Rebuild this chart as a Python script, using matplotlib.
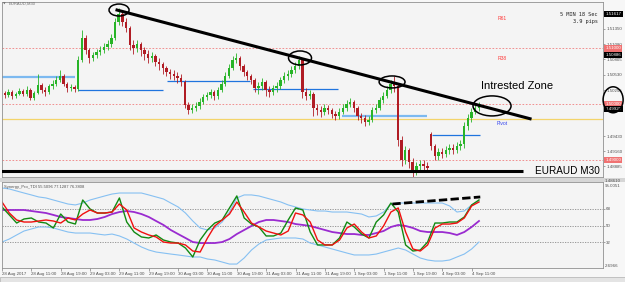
import matplotlib
matplotlib.use("Agg")
import matplotlib.pyplot as plt
import matplotlib.transforms as mtransforms
from matplotlib.patches import Ellipse, Rectangle
import numpy as np

plt.rcParams['font.family'] = ['Liberation Sans', 'DejaVu Sans']

# EURAUD, hourly candles (2 bars per candle)
first_open = 1.5018
monday_open = 1.4947   # weekend gap
monday_candle = 117

close = np.array([
    1.5020, 1.5017, 1.5022, 1.5015, 1.5018, 1.5024, 1.5018, 1.5026, 1.5011, 1.5020,
    1.5035, 1.5026, 1.5022, 1.5033, 1.5036, 1.5043, 1.5051, 1.5036, 1.5029, 1.5031,
    1.5027, 1.5079, 1.5119, 1.5097, 1.5083, 1.5088, 1.5094, 1.5097, 1.5103, 1.5108,
    1.5119, 1.5148, 1.5162, 1.5148, 1.5137, 1.5106, 1.5101, 1.5108, 1.5097, 1.5090,
    1.5083, 1.5087, 1.5076, 1.5072, 1.5065, 1.5058, 1.5054, 1.5051, 1.5047, 1.5040,
    1.4999, 1.4990, 1.4993, 1.4997, 1.5004, 1.5013, 1.5017, 1.5022, 1.5015, 1.5026,
    1.5036, 1.5051, 1.5065, 1.5079, 1.5083, 1.5069, 1.5058, 1.5051, 1.5043, 1.5029,
    1.5033, 1.5040, 1.5026, 1.5022, 1.5029, 1.5033, 1.5043, 1.5051, 1.5054, 1.5061,
    1.5069, 1.5079, 1.5022, 1.5015, 1.5018, 1.4993, 1.4990, 1.4986, 1.4993, 1.4990,
    1.4982, 1.4979, 1.4986, 1.4993, 1.5000, 1.5004, 1.4993, 1.4979, 1.4975, 1.4968,
    1.4972, 1.4990, 1.4993, 1.5008, 1.5015, 1.5026, 1.5036, 1.5033, 1.4936, 1.4900,
    1.4918, 1.4896, 1.4878, 1.4889, 1.4893, 1.4889, 1.4886, 1.4925, 1.4907, 1.4914,
    1.4911, 1.4918, 1.4921, 1.4918, 1.4925, 1.4929, 1.4961, 1.4975, 1.4986, 1.4993,
    1.4997])

high = np.array([
    1.5026, 1.5024, 1.5027, 1.5026, 1.5022, 1.5029, 1.5027, 1.5033, 1.5029, 1.5024,
    1.5054, 1.5038, 1.5031, 1.5036, 1.5043, 1.5051, 1.5061, 1.5054, 1.5040, 1.5036,
    1.5035, 1.5087, 1.5133, 1.5124, 1.5101, 1.5094, 1.5099, 1.5104, 1.5110, 1.5115,
    1.5126, 1.5155, 1.5173, 1.5165, 1.5155, 1.5140, 1.5115, 1.5115, 1.5112, 1.5103,
    1.5097, 1.5094, 1.5090, 1.5083, 1.5076, 1.5069, 1.5063, 1.5061, 1.5058, 1.5054,
    1.5043, 1.5004, 1.5000, 1.5004, 1.5011, 1.5018, 1.5022, 1.5027, 1.5026, 1.5031,
    1.5043, 1.5058, 1.5072, 1.5087, 1.5092, 1.5087, 1.5072, 1.5061, 1.5054, 1.5047,
    1.5040, 1.5047, 1.5043, 1.5033, 1.5035, 1.5040, 1.5049, 1.5058, 1.5061, 1.5069,
    1.5076, 1.5087, 1.5083, 1.5029, 1.5026, 1.5022, 1.5000, 1.4997, 1.5000, 1.4999,
    1.4993, 1.4988, 1.4993, 1.5000, 1.5008, 1.5011, 1.5008, 1.4997, 1.4984, 1.4981,
    1.4979, 1.4995, 1.5000, 1.5013, 1.5022, 1.5033, 1.5043, 1.5051, 1.5036, 1.4943,
    1.4925, 1.4921, 1.4904, 1.4896, 1.4900, 1.4900, 1.4896, 1.4950, 1.4929, 1.4921,
    1.4921, 1.4925, 1.4929, 1.4929, 1.4932, 1.4936, 1.4968, 1.4982, 1.4993, 1.5000,
    1.5004])

low = np.array([
    1.5013, 1.5011, 1.5013, 1.5009, 1.5011, 1.5017, 1.5015, 1.5015, 1.5008, 1.5008,
    1.5018, 1.5020, 1.5015, 1.5018, 1.5027, 1.5033, 1.5040, 1.5033, 1.5022, 1.5024,
    1.5022, 1.5024, 1.5076, 1.5090, 1.5074, 1.5078, 1.5083, 1.5088, 1.5092, 1.5097,
    1.5103, 1.5115, 1.5142, 1.5140, 1.5130, 1.5097, 1.5090, 1.5094, 1.5087, 1.5079,
    1.5074, 1.5076, 1.5069, 1.5061, 1.5054, 1.5051, 1.5045, 1.5043, 1.5038, 1.5033,
    1.4993, 1.4982, 1.4984, 1.4988, 1.4991, 1.5000, 1.5008, 1.5011, 1.5008, 1.5009,
    1.5022, 1.5033, 1.5047, 1.5061, 1.5074, 1.5061, 1.5051, 1.5043, 1.5036, 1.5022,
    1.5018, 1.5026, 1.5015, 1.5013, 1.5017, 1.5022, 1.5027, 1.5038, 1.5043, 1.5049,
    1.5056, 1.5063, 1.5011, 1.5008, 1.5009, 1.4979, 1.4981, 1.4977, 1.4981, 1.4982,
    1.4975, 1.4972, 1.4974, 1.4982, 1.4988, 1.4995, 1.4986, 1.4972, 1.4966, 1.4961,
    1.4963, 1.4968, 1.4984, 1.4990, 1.5002, 1.5011, 1.5020, 1.5022, 1.4925, 1.4889,
    1.4893, 1.4886, 1.4869, 1.4873, 1.4882, 1.4882, 1.4878, 1.4918, 1.4900, 1.4900,
    1.4904, 1.4905, 1.4911, 1.4911, 1.4913, 1.4918, 1.4921, 1.4954, 1.4968, 1.4982,
    1.4988])

# Synergy_Pro_TDI, one value every 2 hours
tdi_upper = [90.9, 89.8, 87.6, 85.4, 83.3, 81.1, 80.0, 77.8, 75.6, 73.4,
             72.4, 74.5, 77.8, 80.0, 82.2, 84.3, 85.4, 85.4, 85.4, 85.4,
             83.3, 81.1, 78.9, 74.5, 70.2, 63.6, 54.9, 47.3, 45.1, 47.3,
             53.8, 64.7, 80.0, 83.3, 83.3, 82.2, 80.0, 77.8, 75.6, 72.4,
             70.2, 68.0, 66.9, 65.8, 65.8, 64.7, 64.7, 64.7, 63.6, 62.5,
             59.3, 60.4, 64.7, 73.4, 74.5, 74.5, 74.5, 74.5, 74.5, 74.5,
             74.5, 71.3, 64.7, 65.8, 72.4, 76.7]
tdi_lower = [32.0, 35.3, 39.7, 44.0, 46.2, 48.4, 48.4, 47.3, 45.1, 42.9,
             41.8, 41.8, 41.8, 40.7, 39.7, 40.7, 38.6, 35.3, 30.9, 26.6,
             23.3, 21.1, 20.0, 18.9, 17.9, 16.8, 15.7, 15.7, 13.5, 12.4,
             10.2, 8.0, 8.0, 14.6, 23.3, 29.8, 34.2, 35.3, 36.4, 36.4,
             36.4, 35.3, 30.9, 28.8, 26.6, 24.4, 22.2, 20.0, 17.9, 17.9,
             17.9, 18.9, 21.1, 23.3, 25.5, 23.3, 18.9, 14.6, 12.4, 11.3,
             11.3, 12.4, 15.7, 18.9, 24.4, 32.0]
tdi_base = [66.9, 66.9, 66.9, 66.9, 65.8, 64.7, 63.6, 61.5, 59.3, 58.2,
            57.1, 56.0, 56.0, 57.1, 59.3, 62.5, 64.7, 65.8, 64.7, 62.5,
            59.3, 54.9, 50.6, 45.1, 40.7, 36.4, 32.0, 30.9, 30.9, 30.9,
            32.0, 35.3, 40.7, 45.1, 49.5, 53.8, 56.0, 56.0, 54.9, 53.8,
            51.6, 50.6, 49.5, 47.3, 45.1, 42.9, 41.8, 40.7, 40.7, 39.7,
            39.7, 41.8, 44.0, 48.4, 50.6, 49.5, 47.3, 44.0, 42.9, 42.9,
            42.9, 41.8, 39.7, 42.9, 48.4, 54.9]
tdi_green = [70.2, 61.5, 52.7, 57.1, 58.2, 53.8, 52.7, 47.3, 62.5, 53.8,
             51.6, 77.8, 68.0, 63.6, 63.6, 64.7, 80.0, 53.8, 42.9, 37.5,
             36.4, 39.7, 34.2, 32.0, 30.9, 25.5, 15.7, 34.2, 45.1, 52.7,
             56.0, 69.1, 82.2, 58.2, 51.6, 48.4, 38.6, 38.6, 41.8, 56.0,
             69.1, 66.9, 42.9, 28.8, 28.8, 28.8, 36.4, 53.8, 48.4, 40.7,
             36.4, 53.8, 61.5, 74.5, 64.7, 28.8, 22.2, 23.3, 32.0, 52.7,
             52.7, 53.8, 53.8, 59.3, 72.4, 77.8]
tdi_red = [75.6, 63.6, 56.0, 53.8, 53.8, 54.9, 56.0, 54.9, 52.7, 58.2,
           56.0, 62.5, 66.9, 63.6, 63.6, 64.7, 73.4, 66.9, 47.3, 42.9,
           39.7, 37.5, 32.0, 30.9, 30.9, 28.8, 22.2, 21.1, 36.4, 49.5,
           56.0, 62.5, 75.6, 64.7, 52.7, 48.4, 44.0, 41.8, 39.7, 44.0,
           63.6, 61.5, 53.8, 34.2, 28.8, 28.8, 34.2, 47.3, 51.6, 42.9,
           36.4, 38.6, 49.5, 64.7, 69.1, 42.9, 24.4, 22.2, 28.8, 47.3,
           51.6, 51.6, 52.7, 58.2, 71.3, 75.6]

date_labels = ['28 Aug 2017', '28 Aug 11:00', '28 Aug 19:00', '29 Aug 03:00',
               '29 Aug 11:00', '29 Aug 19:00', '30 Aug 03:00', '30 Aug 11:00',
               '30 Aug 19:00', '31 Aug 03:00', '31 Aug 11:00', '31 Aug 19:00',
               '1 Sep 03:00', '1 Sep 11:00', '1 Sep 19:00', '4 Sep 03:00',
               '4 Sep 11:00']
price_ticks = [1.51350, 1.51080, 1.50805, 1.50530, 1.50255, 1.49430, 1.49160, 1.48885]
tdi_ticks = [68, 50, 32]

box_prices = [1.51617, 1.51000, 1.50886, 1.50000, 1.49920, 1.49000]
box_colors = ['black', '#f07272', 'black', '#f07272', 'black', '#f07272']

round_levels = [1.5100, 1.5000, 1.4900]
pivot = 1.4974
support = 1.4881
support_end = 284
trend_bars = [63.1, 287.9]
trend_prices = [1.5169, 1.4974]

level_prices = [1.5049, 1.5026, 1.5042, 1.5027, 1.4979, 1.4945]
level_from = [0.5, 41.9, 90.3, 137.1, 185.6, 234.6]
level_to = [40.3, 88.2, 135.5, 183.4, 231.8, 260.7]
level_light = [True, False, False, False, True, False]

zone_bar = [64.2, 162.7, 212.8, 267.2]
zone_price = [1.5169, 1.5083, 1.5040, 1.4997]
zone_w = [10.9, 12.5, 14.1, 20.7]
zone_h = [0.00215, 0.00251, 0.00215, 0.00359]

div_bars = [212.8, 260.7]
div_vals = [73.4, 81.1]

W, H = 625, 282


def rect(x0, y0, x1, y1):
    return [x0 / W, 1 - y1 / H, (x1 - x0) / W, (y1 - y0) / H]


def ftext(px, py, s, **kw):
    fig.text(px / W, 1 - py / H, s, **kw)


fig = plt.figure(figsize=(W / 100, H / 100), dpi=100, facecolor='#f7f7f7')
ax = fig.add_axes(rect(2, 2, 603, 177), facecolor='#f4f4f4')
ax2 = fig.add_axes(rect(2, 182, 603, 268), facecolor='#f4f4f4')

# separator between panels and bottom tab bar
fig.add_artist(Rectangle((0, 1 - 182 / H), 1, 4 / H, transform=fig.transFigure,
                         fc='#d6d6d6', ec='none'))
fig.add_artist(Rectangle((0, 0), 1, 5 / H, transform=fig.transFigure,
                         fc='#e4e4e4', ec='#b0b0b0', lw=0.5))

# ---- price panel ----
for p in round_levels:
    ax.axhline(p, color='#f08080', lw=0.6, ls=(0, (2, 2)), zorder=1)
ax.axhline(pivot, color='#f3d46a', lw=0.9, zorder=1)
for p, a, b, light in zip(level_prices, level_from, level_to, level_light):
    ax.hlines(p, a, b, colors='#7cb9f0' if light else '#1f74de',
              lw=1.6 if light else 0.9, zorder=2)

bars = np.arange(len(close)) * 2
opens = np.r_[first_open, close[:-1]]
opens[monday_candle] = monday_open
colors = np.where(close >= opens, '#27b427', '#b01c24')
ax.vlines(bars, low, high, colors=colors, lw=0.6, zorder=3)
ax.bar(bars, np.maximum(np.abs(close - opens), 0.00004),
       bottom=np.minimum(close, opens), width=1.3, color=colors, lw=0, zorder=3)

ax.plot(trend_bars, trend_prices, color='black', lw=2.2, zorder=4)
ax.hlines(support, 0, support_end, colors='black', lw=2.2, zorder=4)
for xb, yp, w, h in zip(zone_bar, zone_price, zone_w, zone_h):
    ax.add_patch(Ellipse((xb, yp), w, h, fill=False, ec='black', lw=1.1, zorder=5))
ax.add_patch(Ellipse((333.1, 1.5008), 10.9, 0.00466, fill=False, ec='black',
                     lw=1.1, zorder=7, clip_on=False))

ax.set_xlim(0.5, 327.6)
ax.set_ylim(1.48695, 1.51834)
ax.set_xticks([])
ax.yaxis.tick_right()
ax.set_yticks(price_ticks, [f'{p:.5f}' for p in price_ticks])
ax.tick_params(axis='y', length=1.5, width=0.5, pad=0.8, labelsize=3.2,
               color='#808080', labelcolor='#505050')

trans = mtransforms.blended_transform_factory(ax.transAxes, ax.transData)
for p, c in zip(box_prices, box_colors):
    ax.text(1.004, p, f'{p:.5f}', transform=trans, fontsize=3.2, color='white',
            va='center', ha='left', clip_on=False, zorder=6,
            bbox=dict(boxstyle='square,pad=0.25', fc=c, ec='none'))

# ---- TDI panel ----
tdi_bars = np.arange(len(tdi_green)) * 4
for t in tdi_ticks:
    ax2.axhline(t, color='#8a8a8a', lw=0.6, ls=(0, (1.5, 1.5)), zorder=1)
ax2.plot(tdi_bars, tdi_upper, color='#86c0f2', lw=0.8)
ax2.plot(tdi_bars, tdi_lower, color='#86c0f2', lw=0.8)
ax2.plot(tdi_bars, tdi_base, color='#9a2bd0', lw=1.3)
ax2.plot(tdi_bars, tdi_green, color='#128a12', lw=1.0)
ax2.plot(tdi_bars, tdi_red, color='#f01010', lw=1.0)
ax2.plot(div_bars, div_vals, color='black', lw=2.0, ls=(0, (3, 1.2)))

ax2.set_xlim(0.5, 327.6)
ax2.set_ylim(3.7, 97.4)
ax2.yaxis.tick_right()
ax2.set_yticks(tdi_ticks, [str(t) for t in tdi_ticks])
ax2.tick_params(axis='y', length=1.5, width=0.5, pad=0.8, labelsize=3.2,
                color='#808080', labelcolor='#505050')
ax2.set_xticks(np.arange(len(date_labels)) * 16, date_labels, ha='left')
ax2.tick_params(axis='x', length=2, width=0.5, pad=1, labelsize=3.2,
                color='#808080', labelcolor='#505050')

for a in (ax, ax2):
    for s in a.spines.values():
        s.set_color('#909090')
        s.set_linewidth(0.6)

# ---- texts ----
ftext(9, 3.5, 'EURAUD,M30', fontsize=3, color='#707070', va='center')
ftext(3, 3.5, '▼', fontsize=2.5, family='DejaVu Sans', color='#707070', va='center')
ftext(598, 14, '5 MIN 18 Sec', family='DejaVu Sans Mono', fontsize=3.8,
      ha='right', va='center', color='#202020')
ftext(598, 22, '3.9 pips', family='DejaVu Sans Mono', fontsize=3.8,
      ha='right', va='center', color='#202020')
ftext(498, 19, 'R61', fontsize=3.6, color='#ff3b3b', va='center')
ftext(498, 59, 'R38', fontsize=3.6, color='#ff3b3b', va='center')
ftext(517, 86, 'Intrested Zone', fontsize=8, ha='center', va='center')
ftext(535, 171.5, 'EURAUD M30', fontsize=7.2, va='center')
ftext(497, 123.5, 'Pivot', fontsize=3.6, color='#3344ee', va='center')
ftext(4, 187, 'Synergy_Pro_TDI 55.5096 77.1287 76.3808', fontsize=3,
      color='#505050', va='center')
ftext(605, 186, '95.0051', fontsize=3.2, color='#505050', va='center')
ftext(605, 266, '2.6966', fontsize=3.2, color='#505050', va='center')
ftext(605, 180.5, '1.48610', fontsize=3.2, color='#505050', va='center')

fig.savefig('out.png', dpi=100, facecolor=fig.get_facecolor())
